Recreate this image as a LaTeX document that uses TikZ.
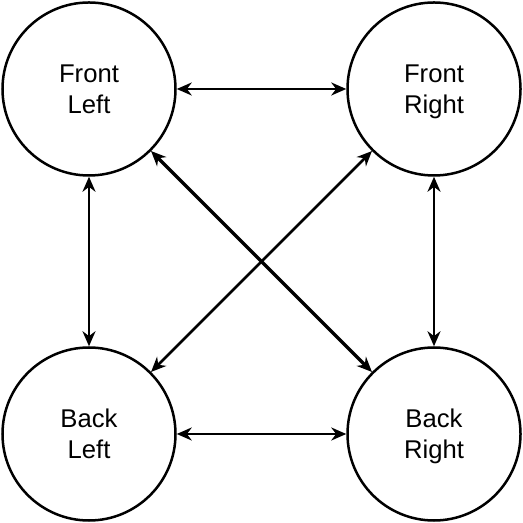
\documentclass[tikz,border=0pt]{standalone}
\usepackage{fontspec}
\setmainfont{Liberation Sans}
\usetikzlibrary{arrows.meta}

\begin{document}
\begin{tikzpicture}[x=1cm, y=1cm]
        \tikzset{
            corner/.style={circle, draw, line width=0.05cm, minimum size=3.46cm, inner sep=0pt,
                align=center, text depth=0cm, font=\fontsize{14.6}{17.8}\selectfont},
            link/.style={line width=0.05cm, {Stealth[length=0.3cm, width=0.26cm]}-{Stealth[length=0.3cm, width=0.26cm]}},
            thick link/.style={link, line width=0.07cm}
        }
        \useasboundingbox (0,0) rectangle (10.46,10.46);

        % Front wheels
        \node[corner] (fl) at (1.78,8.68) {Front\\Left};
        \node[corner] (fr) at (8.68,8.68) {Front\\Right};

        % Back wheels
        \node[corner] (bl) at (1.78,1.78) {Back\\Left};
        \node[corner] (br) at (8.68,1.78) {Back\\Right};

        % Sides
        \draw[link] (fl) -- (fr);
        \draw[link] (bl) -- (br);
        \draw[link] (fl) -- (bl);
        \draw[link] (fr) -- (br);

        % Diagonals
        \draw[thick link] (fl) -- (br);
        \draw[link] (fr) -- (bl);
    \end{tikzpicture}
\end{document}
